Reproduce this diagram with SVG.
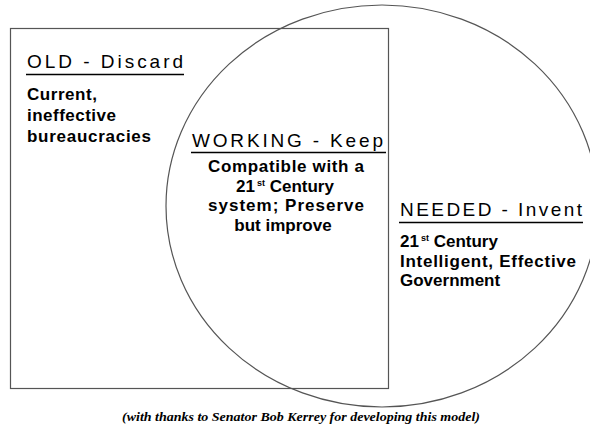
<svg xmlns="http://www.w3.org/2000/svg" width="590" height="431" viewBox="0 0 590 431">
  <style>
    .shape { fill: none; stroke: #555; stroke-width: 1.2; }
    .title { font-family: "Liberation Sans", Arial, sans-serif; font-size: 19px; fill: #000; }
    .body { font-family: "Liberation Sans", Arial, sans-serif; font-size: 17px; font-weight: bold; fill: #000; }
    .sup { font-size: 9px; }
    .uline { stroke: #000; stroke-width: 1.6; }
    .foot { font-family: "Liberation Serif", "Times New Roman", serif; font-size: 12px; font-weight: bold; font-style: italic; fill: #000; }
  </style>
  <rect x="0" y="0" width="590" height="431" fill="#fff"/>
  <g id="shapes">
    <rect id="old-box" class="shape" x="10.5" y="28.5" width="378" height="360"/>
    <ellipse id="needed-circle" class="shape" cx="382" cy="206" rx="216" ry="201"/>
  </g>
  <g id="old">
    <text class="title" x="27" y="68" textLength="156" lengthAdjust="spacing">OLD - Discard</text>
    <line class="uline" x1="26" y1="74.5" x2="184" y2="74.5"/>
    <text class="body" x="27" y="100" textLength="70" lengthAdjust="spacing">Current,</text>
    <text class="body" x="27" y="121" textLength="89" lengthAdjust="spacing">ineffective</text>
    <text class="body" x="27" y="142" textLength="124" lengthAdjust="spacing">bureaucracies</text>
  </g>
  <g id="working">
    <text class="title" x="192" y="147" textLength="191" lengthAdjust="spacing">WORKING - Keep</text>
    <line class="uline" x1="191" y1="152.5" x2="386" y2="152.5"/>
    <text class="body" x="208" y="172" textLength="156" lengthAdjust="spacing">Compatible with a</text>
    <text class="body" x="285" y="191.5" text-anchor="middle">21<tspan class="sup" dx="2" dy="-6">st</tspan><tspan dy="6"> Century</tspan></text>
    <text class="body" x="208" y="211" textLength="156" lengthAdjust="spacing">system; Preserve</text>
    <text class="body" x="283" y="230.5" text-anchor="middle">but improve</text>
  </g>
  <g id="needed">
    <text class="title" x="400" y="216" textLength="182" lengthAdjust="spacing">NEEDED - Invent</text>
    <line class="uline" x1="399" y1="222.5" x2="583" y2="222.5"/>
    <text class="body" x="400" y="247">21<tspan class="sup" dx="2" dy="-6">st</tspan><tspan dy="6"> Century</tspan></text>
    <text class="body" x="400" y="266.5" textLength="176" lengthAdjust="spacing">Intelligent, Effective</text>
    <text class="body" x="400" y="286">Government</text>
  </g>
  <g id="connectors"></g>
  <g id="footer">
    <text class="foot" x="122" y="421" textLength="358" lengthAdjust="spacingAndGlyphs">(with thanks to Senator Bob Kerrey for developing this model)</text>
  </g>
</svg>
